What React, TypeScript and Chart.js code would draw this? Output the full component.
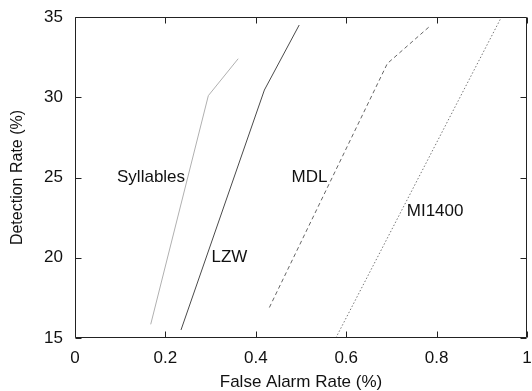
import React, { useEffect, useRef } from "react";
import { Chart, registerables } from "chart.js";

Chart.register(...registerables);

// Data
const syllablesX = [0.1675, 0.295, 0.361];
const syllablesY = [15.85, 30.1, 32.4];
const lzwX = [0.2345, 0.419, 0.496];
const lzwY = [15.5, 30.45, 34.5];
const mdlX = [0.43, 0.691, 0.784];
const mdlY = [16.9, 32.1, 34.4];
const mi1400X = [0.577, 0.942];
const mi1400Y = [15.0, 34.92];

const curveNames = ["Syllables", "LZW", "MDL", "MI1400"];
const labelX = [0.093, 0.302, 0.479, 0.734];
const labelY = [25, 20, 25, 22.9];

const xMin = 0, xMax = 1, xStep = 0.2;
const yMin = 15, yMax = 35, yStep = 5;

const FONT = "'Liberation Sans', Arial, sans-serif";

const toPts = (xs: number[], ys: number[]) => xs.map((x, i) => ({ x, y: ys[i] }));

const frameAndLabels = {
  id: "frameAndLabels",
  afterDraw(chart: any) {
    const { ctx, chartArea, scales } = chart;
    const xs = scales.x, ys = scales.y;
    const L = Math.round(chartArea.left) + 0.5;
    const R = Math.round(chartArea.right) - 0.5;
    const T = Math.round(chartArea.top) + 0.5;
    const B = Math.round(chartArea.bottom) - 0.5;
    ctx.save();
    ctx.strokeStyle = "#222";
    ctx.lineWidth = 1;
    ctx.setLineDash([]);
    ctx.beginPath();
    ctx.moveTo(L, T); ctx.lineTo(R, T); ctx.lineTo(R, B); ctx.lineTo(L, B); ctx.closePath();
    const tl = 6;
    xs.ticks.forEach((t: any) => {
      const px = Math.round(xs.getPixelForValue(t.value)) + 0.5;
      ctx.moveTo(px, B); ctx.lineTo(px, B - tl);
      ctx.moveTo(px, T); ctx.lineTo(px, T + tl);
    });
    ys.ticks.forEach((t: any) => {
      const py = Math.round(ys.getPixelForValue(t.value)) + 0.5;
      ctx.moveTo(L, py); ctx.lineTo(L + tl, py);
      ctx.moveTo(R, py); ctx.lineTo(R - tl, py);
    });
    ctx.stroke();
    ctx.fillStyle = "#111";
    ctx.font = `17px ${FONT}`;
    ctx.textAlign = "left";
    ctx.textBaseline = "middle";
    curveNames.forEach((n, i) => {
      ctx.fillText(n, xs.getPixelForValue(labelX[i]), ys.getPixelForValue(labelY[i]));
    });
    ctx.restore();
  },
};

export default function App() {
  const ref = useRef<HTMLCanvasElement | null>(null);
  useEffect(() => {
    if (!ref.current) return;
    const common = { showLine: true, pointRadius: 0, borderWidth: 1, fill: false, tension: 0 };
    const chart = new Chart(ref.current, {
      type: "scatter",
      data: {
        datasets: [
          { ...common, label: curveNames[0], data: toPts(syllablesX, syllablesY), borderColor: "#b0b0b0" },
          { ...common, label: curveNames[1], data: toPts(lzwX, lzwY), borderColor: "#4a4a4a" },
          { ...common, label: curveNames[2], data: toPts(mdlX, mdlY), borderColor: "#666", borderDash: [4, 3] },
          { ...common, label: curveNames[3], data: toPts(mi1400X, mi1400Y), borderColor: "#777", borderDash: [1.5, 2] },
        ],
      },
      options: {
        animation: false,
        responsive: false,
        maintainAspectRatio: false,
        layout: { padding: { top: 17, right: 5, left: 0, bottom: 0 } },
        plugins: { legend: { display: false }, tooltip: { enabled: false } },
        scales: {
          x: {
            type: "linear",
            min: xMin,
            max: xMax,
            grid: { display: false, drawTicks: false },
            border: { display: false },
            ticks: {
              stepSize: xStep, padding: 10, color: "#111", font: { family: FONT, size: 17 }, maxRotation: 0,
              callback: (v: any) => String(Math.round(Number(v) * 10) / 10),
            },
            title: { display: true, text: "False Alarm Rate (%)", color: "#111", font: { family: FONT, size: 17, lineHeight: 1 }, padding: { top: 0, bottom: 0 } },
            afterFit: (s: any) => { s.height = 53; s.paddingLeft = 0; s.paddingRight = 0; },
          },
          y: {
            type: "linear",
            min: yMin,
            max: yMax,
            grid: { display: false, drawTicks: false },
            border: { display: false },
            ticks: { stepSize: yStep, padding: 12, color: "#111", font: { family: FONT, size: 17 } },
            title: { display: true, text: "Detection Rate (%)", color: "#111", font: { family: FONT, size: 16, lineHeight: 1 }, padding: { top: 10, bottom: 0 } },
            afterFit: (s: any) => { s.width = 75; s.paddingTop = 0; s.paddingBottom = 0; },
          },
        },
      },
      plugins: [frameAndLabels],
    });
    return () => chart.destroy();
  }, []);
  return (
    <div style={{ position: "absolute", left: 0, top: 0, width: 532, height: 391, background: "#fff" }}>
      <canvas ref={ref} width={532} height={391} style={{ display: "block" }} />
    </div>
  );
}
